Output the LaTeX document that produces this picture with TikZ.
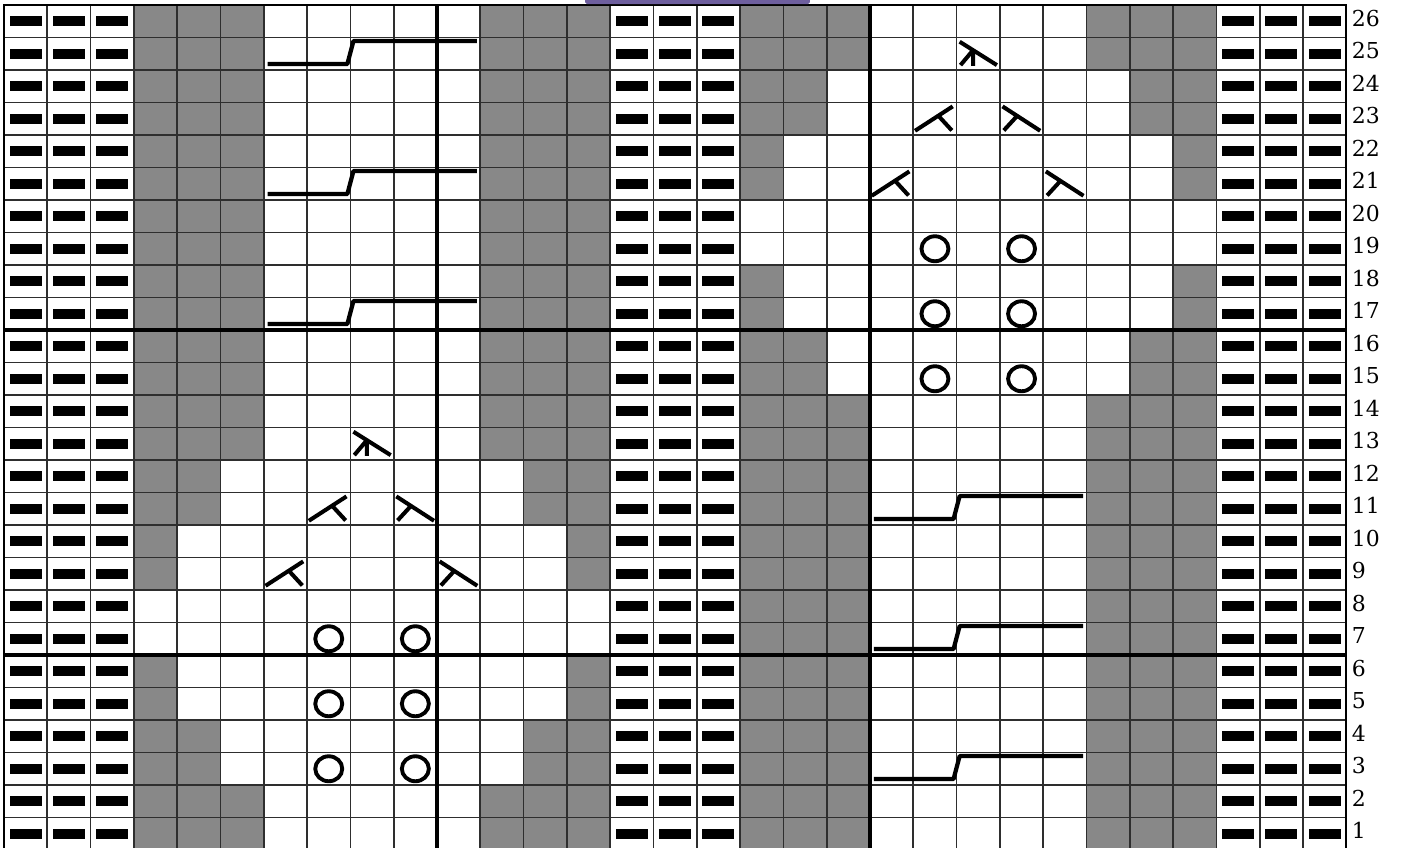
\documentclass[tikz,border=0pt]{standalone}
\usepackage{fontspec}
\usepackage{tikz}
\newfontfamily\chartfont{DejaVu Serif}
\definecolor{chtgray}{HTML}{888888}
\definecolor{chtline}{HTML}{2E2E2E}
\definecolor{chtpurple}{HTML}{6E5F9E}

\begin{document}
\begin{tikzpicture}[x=0.866cm, y=0.65cm,
  gridline/.style={draw=chtline, line width=0.95pt},
  boldline/.style={draw=black, line width=2pt},
  purl/.style={fill=black, draw=none, minimum width=0.64cm,
    minimum height=0.2cm, inner sep=0pt},
  sym/.style={line width=2.3pt},
  cable/.style={line width=2.4pt, line join=round},
  yo/.style={line width=2.2pt},
  rowlab/.style={anchor=west, inner sep=0pt,
    font=\chartfont\fontsize{12.5}{13}\selectfont}]

  \useasboundingbox (-0.0924,0.0923) rectangle (32.263,26.154);
  \fill[white] (-0.0924,0.0923) rectangle (32.263,26.154);

  % shaded stitches
  \foreach \rows/\cols in {
    {1,2,13,14,15,16,17,18,19,20,21,22,23,24,25,26}/{4,5,6,12,13,14},
    {3,4,11,12}/{4,5,13,14},
    {5,6,9,10}/{4,14},
    {1,2,3,4,5,6,7,8,9,10,11,12,13,14,25,26}/{18,19,20,26,27,28},
    {15,16,23,24}/{18,19,27,28},
    {17,18,21,22}/{18,28}}
    \foreach \r in \rows
      \foreach \c in \cols
        \fill[chtgray] (\c-1,\r-1) rectangle (\c,\r);

  % grid
  \foreach \c in {0,...,31}
    \draw[gridline] (\c,0) -- (\c,26);
  \foreach \r in {0,...,26}
    \draw[gridline] (0,\r) -- (31,\r);
  \foreach \c in {10,20}
    \draw[boldline] (\c,0) -- (\c,26);
  \foreach \r in {6,16}
    \draw[boldline] (0,\r) -- (31,\r);
  \draw[black, line width=1.2pt] (0,0) rectangle (31,26);

  % purl stitches
  \foreach \r in {1,...,26}
    \foreach \c in {1,2,3,15,16,17,29,30,31}
      \node[purl] (p-\r-\c) at (\c-0.5,\r-0.5) {};

  % cables
  \foreach \r/\c in {25/6,21/6,17/6,11/20,7/20,3/20}
    \draw[cable] (\c+0.09,\r-0.815) -- (\c+1.93,\r-0.815)
      -- (\c+2.07,\r-0.11) -- (\c+4.92,\r-0.11);

  % yarn overs
  \foreach \r/\c in {7/8,7/10,5/8,5/10,3/8,3/10,
                     19/22,19/24,17/22,17/24,15/22,15/24}
    \draw[yo] (\c-0.5,\r-0.5) ellipse [x radius=0.27cm, y radius=0.25cm];

  % decreases
  \foreach \r/\c in {11/8,9/7,23/22,21/21}
    \draw[sym, shift={(\c-1,\r-1)}] (0.04,0.13) -- (0.91,0.88)
      (0.58,0.59) -- (0.89,0.14);
  \foreach \r/\c in {11/10,9/11,23/24,21/25}
    \draw[sym, shift={(\c-1,\r-1)}] (0.06,0.88) -- (0.93,0.13)
      (0.4,0.59) -- (0.09,0.14);
  \foreach \r/\c in {13/9,25/23}
    \draw[sym, shift={(\c-1,\r-1)}] (0.07,0.87) -- (0.93,0.15)
      (0.38,0.61) -- (0.38,0.13) (0.38,0.61) -- (0.09,0.15);

  % row numbers
  \foreach \r in {1,...,26}
    \node[rowlab] (n\r) at (31.12,\r-0.41) {\r};

  \fill[chtpurple, rounded corners=1pt] (13.42,26.03) rectangle (18.61,26.3);

\end{tikzpicture}
\end{document}
